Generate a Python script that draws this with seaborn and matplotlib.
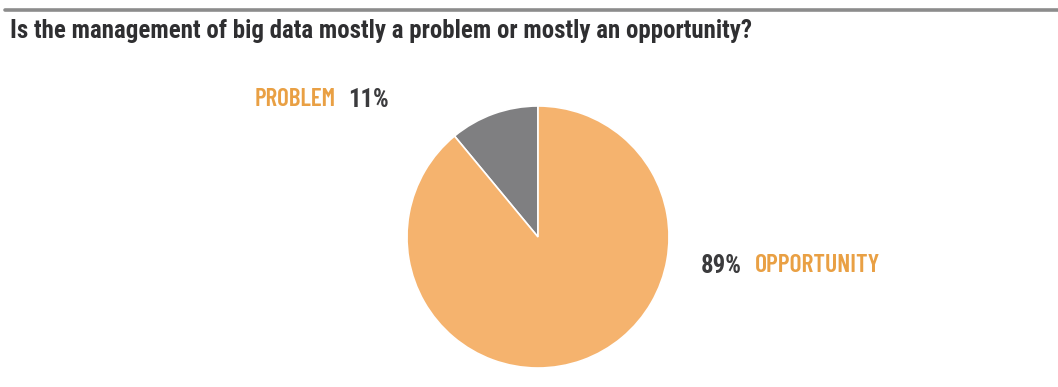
import matplotlib
matplotlib.use("Agg")
import matplotlib.pyplot as plt
from matplotlib.lines import Line2D
import seaborn as sns

# Survey answers
categories = ["PROBLEM", "OPPORTUNITY"]
shares = [11, 89]

title = "Is the management of big data mostly a problem or mostly an opportunity?"

sns.set_theme(style="white")
plt.rcParams["font.family"] = ["Roboto Condensed", "DejaVu Sans"]

colors = sns.color_palette(["#7f7f81", "#f5b36e"])
label_orange = "#e9a044"
label_dark = "#3b3b3d"
label_font = ["Barlow Condensed", "Roboto Condensed", "DejaVu Sans"]

W, H = 1058, 387
fig = plt.figure(figsize=(W / 100, H / 100), dpi=100)
fig.patch.set_facecolor("white")
renderer = fig.canvas.get_renderer()


def place(x0, x1, yc, s, color, size=14, family=None, weight="bold"):
    """Put text s between pixel columns x0..x1, vertically centred at pixel row yc."""
    kw = {"family": family} if family else {}
    t = fig.text(x0 / W, 1 - yc / H, s, fontsize=size, fontweight=weight,
                 color=color, va="center", ha="left", **kw)
    w = t.get_window_extent(renderer).width
    t.set_fontsize(size * (x1 - x0) / w)
    return t


# Grey rule and heading across the top
fig.add_artist(Line2D([5 / W, 1.0], [1 - 10 / H, 1 - 10 / H], color="#8c8c8c",
                      linewidth=2.6, transform=fig.transFigure))
place(10, 753, 31, title, "#2f2f31", 15)

# Pie: grey slice runs from 12 o'clock towards the left, orange fills the rest
cx, cy, r = 538, 237, 131
ax = fig.add_axes([(cx - r) / W, 1 - (cy + r) / H, 2 * r / W, 2 * r / H])
ax.pie(shares, colors=colors, startangle=90, counterclock=True, radius=1.0,
       wedgeprops=dict(linewidth=1.2, edgecolor="white"))
ax.set_xlim(-1, 1)
ax.set_ylim(-1, 1)
ax.set_aspect("equal")
ax.axis("off")

# Slice labels
place(255, 336, 100, categories[0], label_orange, family=label_font, weight="semibold")
place(348, 389, 100, f"{shares[0]}%", label_dark)
place(701, 742, 266, f"{shares[1]}%", label_dark)
place(755, 880, 266, categories[1], label_orange, family=label_font, weight="semibold")

fig.savefig("out.png", dpi=100, facecolor="white")
